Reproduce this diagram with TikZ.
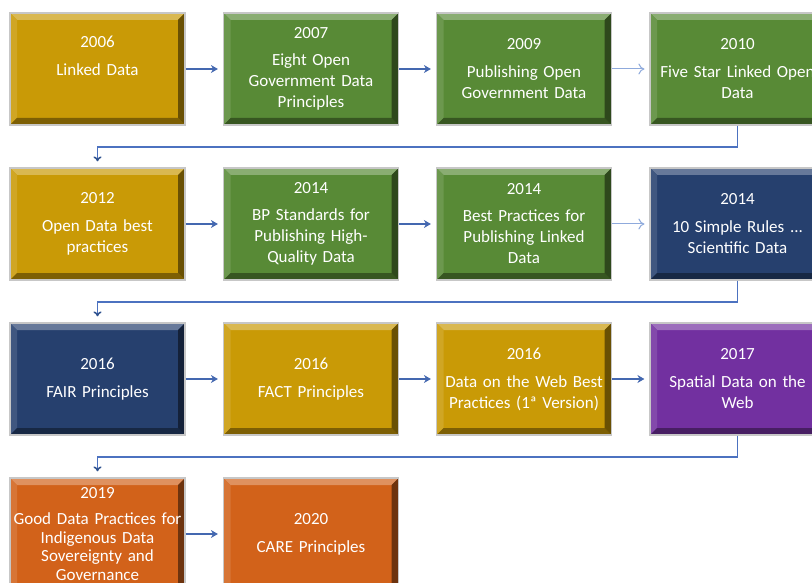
\documentclass[tikz,border=0pt]{standalone}
\usepackage{fontspec}
\setmainfont{Carlito}
\usetikzlibrary{arrows.meta}
\definecolor{cgold}{RGB}{201,154,6}
\definecolor{cgreen}{RGB}{88,138,54}
\definecolor{cnavy}{RGB}{38,64,110}
\definecolor{cpurple}{RGB}{114,48,160}
\definecolor{corange}{RGB}{210,98,26}
\definecolor{darkarrow}{RGB}{68,104,176}
\definecolor{lightarrow}{RGB}{143,170,220}
\definecolor{connline}{RGB}{76,114,192}
\definecolor{conntip}{RGB}{47,82,143}
\tikzset{
  bevbox/.style={
    draw=black!22, line width=1.2pt, fill=#1,
    minimum width=175pt, minimum height=112pt,
    text width=170pt, inner xsep=2.5pt, inner ysep=0pt, align=center,
    text=white, font=\fontsize{17}{21}\selectfont,
    path picture={
      \fill[#1!70!white] (path picture bounding box.north west) -- (path picture bounding box.north east)
        -- ([xshift=-7pt,yshift=-7pt]path picture bounding box.north east) -- ([xshift=7pt,yshift=-7pt]path picture bounding box.north west) -- cycle;
      \fill[#1!88!white] (path picture bounding box.north west) -- (path picture bounding box.south west)
        -- ([xshift=7pt,yshift=7pt]path picture bounding box.south west) -- ([xshift=7pt,yshift=-7pt]path picture bounding box.north west) -- cycle;
      \fill[#1!62!black] (path picture bounding box.south west) -- (path picture bounding box.south east)
        -- ([xshift=-7pt,yshift=7pt]path picture bounding box.south east) -- ([xshift=7pt,yshift=7pt]path picture bounding box.south west) -- cycle;
      \fill[#1!52!black] (path picture bounding box.north east) -- (path picture bounding box.south east)
        -- ([xshift=-7pt,yshift=7pt]path picture bounding box.south east) -- ([xshift=-7pt,yshift=-7pt]path picture bounding box.north east) -- cycle;
    }},
  darr/.style={draw=darkarrow, line width=1.5pt, -{Stealth[length=7pt,width=8pt]}, shorten >=5pt},
  larr/.style={draw=lightarrow, line width=1pt, -{To[length=6pt,width=11pt]}, shorten >=5pt},
  conn/.style={draw=connline, line width=1.5pt, -{To[length=5pt,width=8pt,color=conntip]}, shorten >=6pt},
}
\begin{document}
\begin{tikzpicture}[x=1pt,y=-1pt]
\clip (0,0) rectangle (812,583);
\fill[white] (0,0) rectangle (812,583);
% row 1
\node[bevbox=cgold]   (b1) at (97.5,69)  {2006\\[7pt]Linked Data\\ \strut};
\node[bevbox=cgreen]  (b2) at (311,69)   {2007\\[6pt]Eight Open\\Government Data\\Principles};
\node[bevbox=cgreen]  (b3) at (524,69)   {2009\\[7pt]Publishing Open\\Government Data};
\node[bevbox=cgreen]  (b4) at (737.5,69) {2010\\[7pt]Five Star Linked Open\\Data};
% row 2
\node[bevbox=cgold]   (b5) at (97.5,224)  {2012\\[7pt]Open Data best\\practices};
\node[bevbox=cgreen]  (b6) at (311,224)   {2014\\[6pt]BP Standards for\\Publishing High-\\Quality Data};
\node[bevbox=cgreen]  (b7) at (524,224)   {2014\\[6pt]Best Practices for\\Publishing Linked\\Data};
\node[bevbox=cnavy]   (b8) at (737.5,224) {2014\\[7pt]10 Simple Rules ...\\Scientific Data};
% row 3
\node[bevbox=cnavy]   (b9)  at (97.5,379)  {2016\\[7pt]FAIR Principles};
\node[bevbox=cgold]   (b10) at (311,379)   {2016\\[7pt]FACT Principles};
\node[bevbox=cgold]   (b11) at (524,379)   {2016\\[7pt]Data on the Web Best\\Practices (1ª Version)};
\node[bevbox=cpurple] (b12) at (737.5,379) {2017\\[7pt]Spatial Data on the\\Web};
% row 4
\node[bevbox=corange, font=\fontsize{17}{18.5}\selectfont] (b13) at (97.5,534) {2019\\[8pt]Good Data Practices for\\Indigenous Data\\Sovereignty and\\Governance};
\node[bevbox=corange] (b14) at (311,534)   {2020\\[7pt]CARE Principles};
% arrows
\draw[darr] (b1) -- (b2);
\draw[darr] (b2) -- (b3);
\draw[larr] (b3) -- (b4);
\draw[darr] (b5) -- (b6);
\draw[darr] (b6) -- (b7);
\draw[larr] (b7) -- (b8);
\draw[darr] (b9) -- (b10);
\draw[darr] (b10) -- (b11);
\draw[darr] (b11) -- (b12);
\draw[darr] (b13) -- (b14);
% row connectors
\draw[conn] (b4.south) -- ++(0,21.5) -| (b5.north);
\draw[conn] (b8.south) -- ++(0,21.5) -| (b9.north);
\draw[conn] (b12.south) -- ++(0,21.5) -| (b13.north);
\end{tikzpicture}
\end{document}
